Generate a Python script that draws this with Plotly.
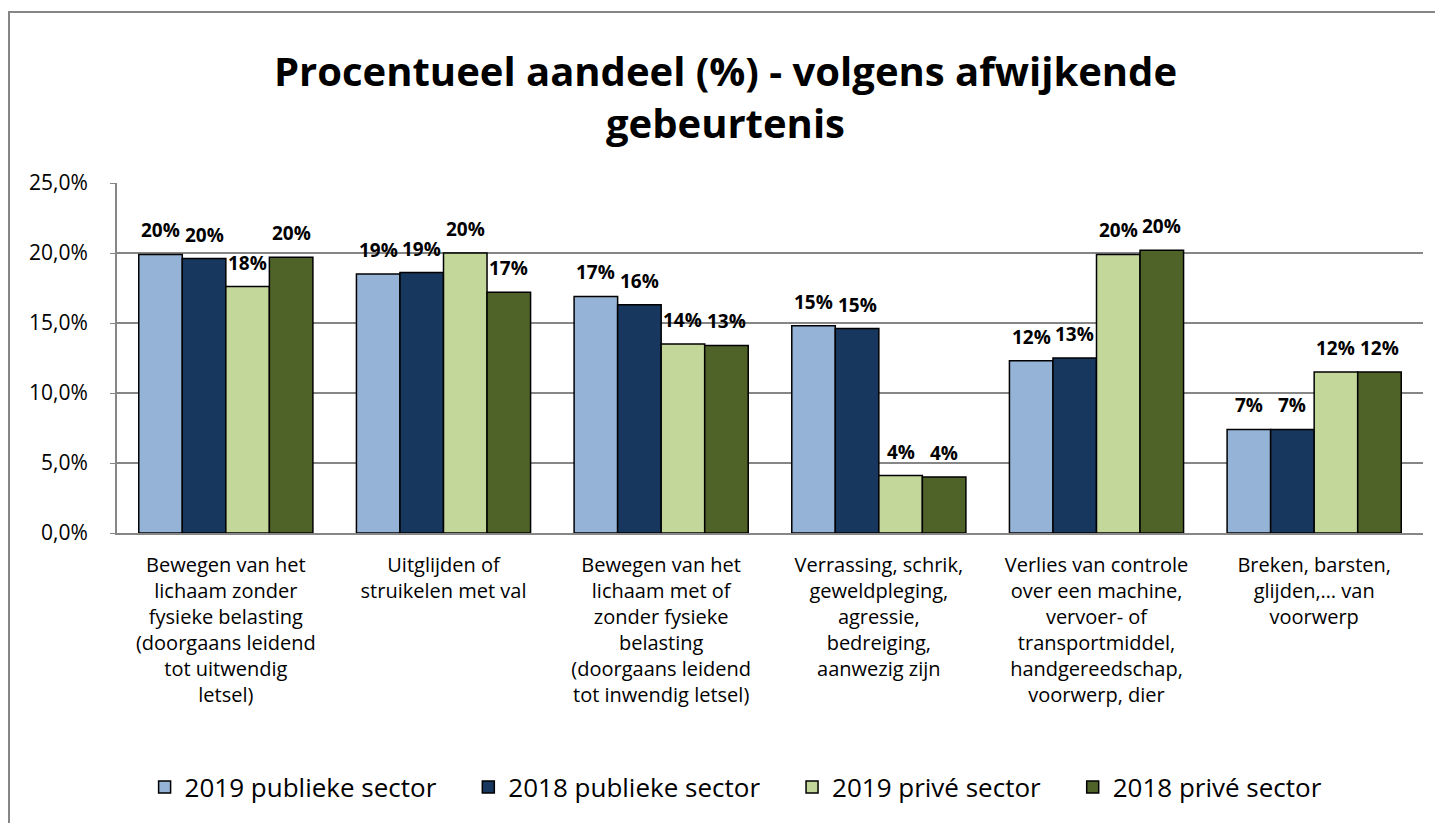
import math
import plotly.graph_objects as go

categories = [
    "Bewegen van het<br>lichaam zonder<br>fysieke belasting<br>(doorgaans leidend<br>tot uitwendig<br>letsel)",
    "Uitglijden of<br>struikelen met val<br> <br> <br> <br> ",
    "Bewegen van het<br>lichaam met of<br>zonder fysieke<br>belasting<br>(doorgaans leidend<br>tot inwendig letsel)",
    "Verrassing, schrik,<br>geweldpleging,<br>agressie,<br>bedreiging,<br>aanwezig zijn<br> ",
    "Verlies van controle<br>over een machine,<br>vervoer- of<br>transportmiddel,<br>handgereedschap,<br>voorwerp, dier",
    "Breken, barsten,<br>glijden,… van<br>voorwerp<br> <br> <br> ",
]
series_names = ["2019 publieke sector", "2018 publieke sector", "2019 privé sector", "2018 privé sector"]
pub_2019 = [19.9, 18.5, 16.9, 14.8, 12.3, 7.4]
pub_2018 = [19.6, 18.6, 16.3, 14.6, 12.5, 7.4]
priv_2019 = [17.6, 20.0, 13.5, 4.1, 19.9, 11.5]
priv_2018 = [19.7, 17.2, 13.4, 4.0, 20.2, 11.5]
colors = ["#95B3D7", "#17375E", "#C4D79B", "#4F6228"]

FONT = "Open Sans"
BARGAP = 0.2
series = [pub_2019, pub_2018, priv_2019, priv_2018]
n = len(series)
xs = list(range(len(categories)))

fig = go.Figure()
annotations = []
for k, (name, vals, col) in enumerate(zip(series_names, series, colors)):
    fig.add_trace(go.Bar(
        x=xs, y=vals, name=name + "\u00a0" * 4,
        marker=dict(color=col, line=dict(color="black", width=1.5)),
        hoverinfo="y",
    ))
    off = (k - (n - 1) / 2) * (1 - BARGAP) / n
    for i, v in enumerate(vals):
        annotations.append(dict(
            x=i + off, y=v, xref="x", yref="y", text=f"{math.floor(v + 0.5)}%", showarrow=False,
            yanchor="bottom", xanchor="center", yshift=9,
            font=dict(family=FONT, size=19, color="black", weight="bold"),
        ))

fig.update_layout(
    width=1435, height=815,
    margin=dict(l=109, r=20, t=175, b=290, autoexpand=False),
    paper_bgcolor="white", plot_bgcolor="white",
    barmode="group", bargap=BARGAP, bargroupgap=0,
    font=dict(family=FONT, color="black"),
    title=dict(text="<b>Procentueel aandeel (%) - volgens afwijkende<br>gebeurtenis</b>",
               x=0.5, xanchor="center", y=1 - 78 / 815, yanchor="middle",
               font=dict(family=FONT, size=40, color="black")),
    showlegend=True,
    legend=dict(orientation="h", x=0.484, xanchor="center", y=-0.726, yanchor="middle",
                font=dict(family=FONT, size=26, color="black"), itemwidth=30,
                traceorder="normal"),
    xaxis=dict(tickmode="array", tickvals=xs, ticktext=categories,
               tickfont=dict(family=FONT, size=20, color="black"), showline=True,
               linecolor="#868686", linewidth=2, ticks="", range=[-0.5, 5.5], tickangle=0,
               ticklabelstandoff=13),
    yaxis=dict(range=[0, 25], dtick=5, tickformat=".1f", ticksuffix="%",
               tickfont=dict(family=FONT, size=21, color="black"),
               showgrid=True, gridcolor="#868686", gridwidth=2, showline=True,
               linecolor="#868686", linewidth=2, ticks="outside", ticklen=5,
               tickcolor="#868686", ticklabelstandoff=18, zeroline=False),
    separators=",.",
    annotations=annotations,
    shapes=[dict(type="rect", xref="paper", yref="paper", x0=(1 - 109) / 1306, x1=1.2,
                 y0=-1.5, y1=(525 - 4) / 350, line=dict(color="#868686", width=2),
                 fillcolor="rgba(0,0,0,0)", layer="below")],
)
fig.write_html("out.html")
